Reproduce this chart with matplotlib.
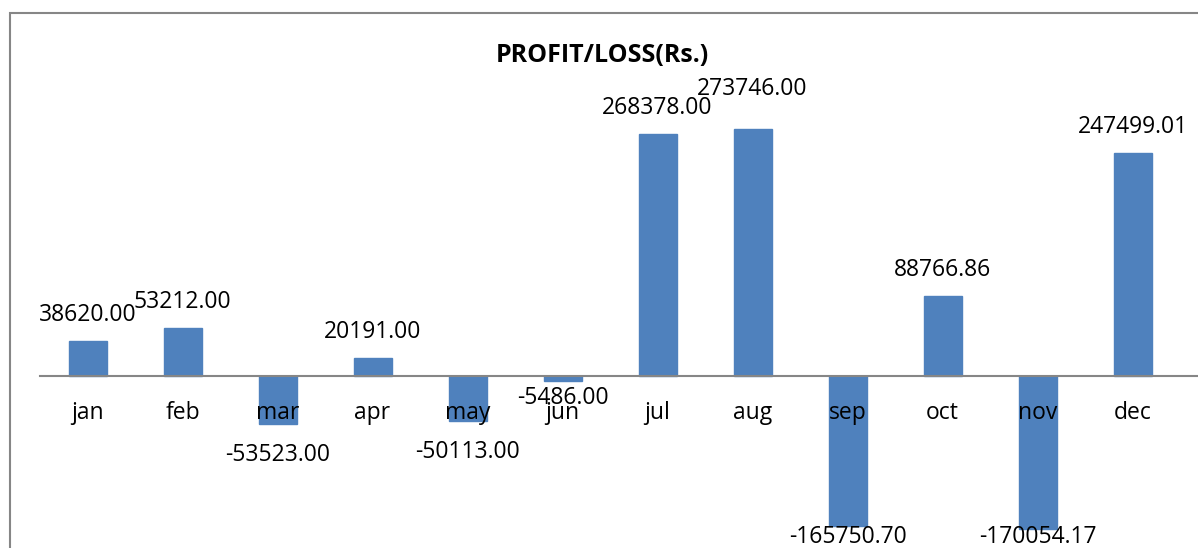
import numpy as np
import matplotlib
matplotlib.use("Agg")
import matplotlib.pyplot as plt
from matplotlib.patches import Rectangle

months = ["jan", "feb", "mar", "apr", "may", "jun",
          "jul", "aug", "sep", "oct", "nov", "dec"]
profit = [38620.00, 53212.00, -53523.00, 20191.00, -50113.00, -5486.00,
          268378.00, 273746.00, -165750.70, 88766.86, -170054.17, 247499.01]

plt.rcParams['font.family'] = ['Open Sans', 'DejaVu Sans']
W, H = 1198, 548
fig = plt.figure(figsize=(W / 100, H / 100), dpi=100)

# outer chart border (runs off the right and bottom edges)
fig.patches.append(Rectangle((10 / W, -0.2), 1.5, 1 - 13 / H + 0.2,
                             transform=fig.transFigure, fill=False,
                             edgecolor="#868686", linewidth=1.5))

ax = fig.add_axes([40 / W, 0, 1 - 40 / W, (H - 60) / H])
ax.set_facecolor("none")
x = np.arange(len(months))
ax.bar(x, profit, width=0.4, color="#4F81BD", edgecolor="#4F81BD")

upp = 1108.6  # data units per pixel
ax.set_xlim(-0.5, -0.5 + (W - 40) / 95)
ax.set_ylim(-172 * upp, (H - 60 - 172) * upp)

for s in ["left", "right", "top"]:
    ax.spines[s].set_visible(False)
ax.spines["bottom"].set_position(("data", 0))
ax.spines["bottom"].set_color("#868686")
ax.spines["bottom"].set_linewidth(1.5)
ax.set_yticks([])
ax.set_xticks(x)
ax.set_xticklabels(months, fontsize=16.5)
ax.tick_params(axis="x", length=0, pad=18)

prev = None
for xi, v in zip(x, profit):
    if v >= 0:
        off = 10
        # lift a label that would sit level with its neighbour's
        if prev is not None and prev > 0 and abs(v - prev) < 10000:
            off += 10
        ax.annotate(f"{v:.2f}", (xi, v), xytext=(0, off), textcoords="offset points",
                    ha="center", va="bottom", fontsize=16.5)
    else:
        # pixel position of the bar end, label centre below it,
        # kept inside the bottom of the figure
        bar_end = ax.transData.transform((xi, v))[1]
        gap = 17 if abs(v) / upp < 10 else 31
        ypix = max(bar_end - gap, 11)
        ax.annotate(f"{v:.2f}", (xi, ypix), xycoords=("data", "figure pixels"),
                    ha="center", va="center", fontsize=16.5)
    prev = v

fig.text(602 / W, 1 - 55 / H, "PROFIT/LOSS(Rs.)", ha="center", va="center",
         fontsize=18, fontweight="bold")

fig.savefig("out.png", dpi=100)
